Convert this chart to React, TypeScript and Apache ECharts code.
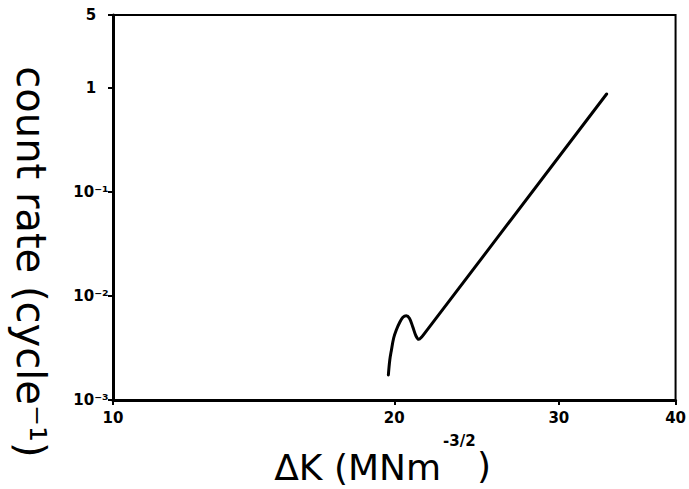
import React, { useEffect, useRef } from "react";
import * as echarts from "echarts";

// Axis ticks and labels
const xTicks = [10, 20, 30, 40];
const yTicks = [0.001, 0.01, 0.1, 1, 5];
const yTickLabels = ["10⁻³", "10⁻²", "10⁻¹", "1", "5"];

// Curve: ΔK (MNm^-3/2) vs count rate (cycle^-1)
const deltaK = [19.71, 19.78, 19.86, 19.97, 20.1, 20.26, 20.43, 20.6, 20.76, 20.93, 21.1, 21.24, 21.41, 21.62, 33.75];
const countRate = [0.001739, 0.002423, 0.003022, 0.003941, 0.004706, 0.005529, 0.006231, 0.006457, 0.006095, 0.005061, 0.00412, 0.00383, 0.004058, 0.004531, 0.8712];

const FONT = "DejaVu Sans";

export default function App() {
  const ref = useRef<HTMLDivElement>(null);
  useEffect(() => {
    if (!ref.current) return;
    const chart = echarts.init(ref.current, null, { renderer: "svg" });
    const data = deltaK.map((x, i) => [x, countRate[i]]);
    chart.setOption({
      animation: false,
      backgroundColor: "#fff",
      grid: {
        left: 113,
        right: 6,
        top: 15,
        bottom: 89,
        show: true,
        borderColor: "#000",
        borderWidth: 2,
        containLabel: false,
      },
      xAxis: {
        type: "log",
        logBase: 10,
        min: 10,
        max: 40,
        axisLine: { show: true, lineStyle: { color: "#000", width: 3 } },
        axisTick: { show: true, customValues: xTicks, length: 5, lineStyle: { color: "#000", width: 2 } },
        axisLabel: {
          customValues: xTicks,
          color: "#000",
          fontSize: 15,
          fontWeight: "bold",
          fontFamily: FONT,
          margin: 10,
          formatter: (v: number) => String(Math.round(v)),
        },
        splitLine: { show: false },
        minorTick: { show: false },
      },
      yAxis: {
        type: "log",
        logBase: 10,
        min: 0.001,
        max: 5,
        axisLine: { show: true, lineStyle: { color: "#000", width: 3 } },
        axisTick: { show: true, customValues: yTicks, length: 5, lineStyle: { color: "#000", width: 2 } },
        axisLabel: {
          customValues: yTicks,
          color: "#000",
          fontSize: 15,
          fontWeight: "bold",
          fontFamily: FONT,
          margin: 22,
          align: "center",
          formatter: (v: number) => {
            const i = yTicks.findIndex((t) => Math.abs(Math.log10(v) - Math.log10(t)) < 0.01);
            return i >= 0 ? yTickLabels[i] : "";
          },
        },
        splitLine: { show: false },
        minorTick: { show: false },
      },
      series: [
        {
          type: "line",
          data,
          smooth: 0.35,
          showSymbol: false,
          symbol: "none",
          lineStyle: { color: "#000", width: 3, cap: "round", join: "round" },
        },
      ],
      graphic: [
        {
          type: "text",
          x: 31,
          y: 262,
          rotation: -Math.PI / 2,
          style: {
            text: "count rate (cycle⁻¹)",
            fontSize: 40,
            fontFamily: FONT,
            fill: "#000",
            align: "center",
            verticalAlign: "middle",
          },
        },
        {
          type: "text",
          x: 441,
          y: 467,
          style: {
            text: "ΔK (MNm",
            fontSize: 36,
            fontFamily: FONT,
            fill: "#000",
            align: "right",
            verticalAlign: "middle",
          },
        },
        {
          type: "text",
          x: 443,
          y: 441,
          style: {
            text: "-3/2",
            fontSize: 15,
            fontFamily: FONT,
            fontWeight: "bold",
            fill: "#000",
            align: "left",
            verticalAlign: "middle",
          },
        },
        {
          type: "text",
          x: 477,
          y: 465,
          style: {
            text: ")",
            fontSize: 36,
            fontFamily: FONT,
            fill: "#000",
            align: "left",
            verticalAlign: "middle",
          },
        },
      ],
    });
    return () => chart.dispose();
  }, []);
  return (
    <div
      ref={ref}
      style={{ position: "fixed", left: 0, top: 0, width: 689, height: 489, background: "#fff" }}
    />
  );
}
